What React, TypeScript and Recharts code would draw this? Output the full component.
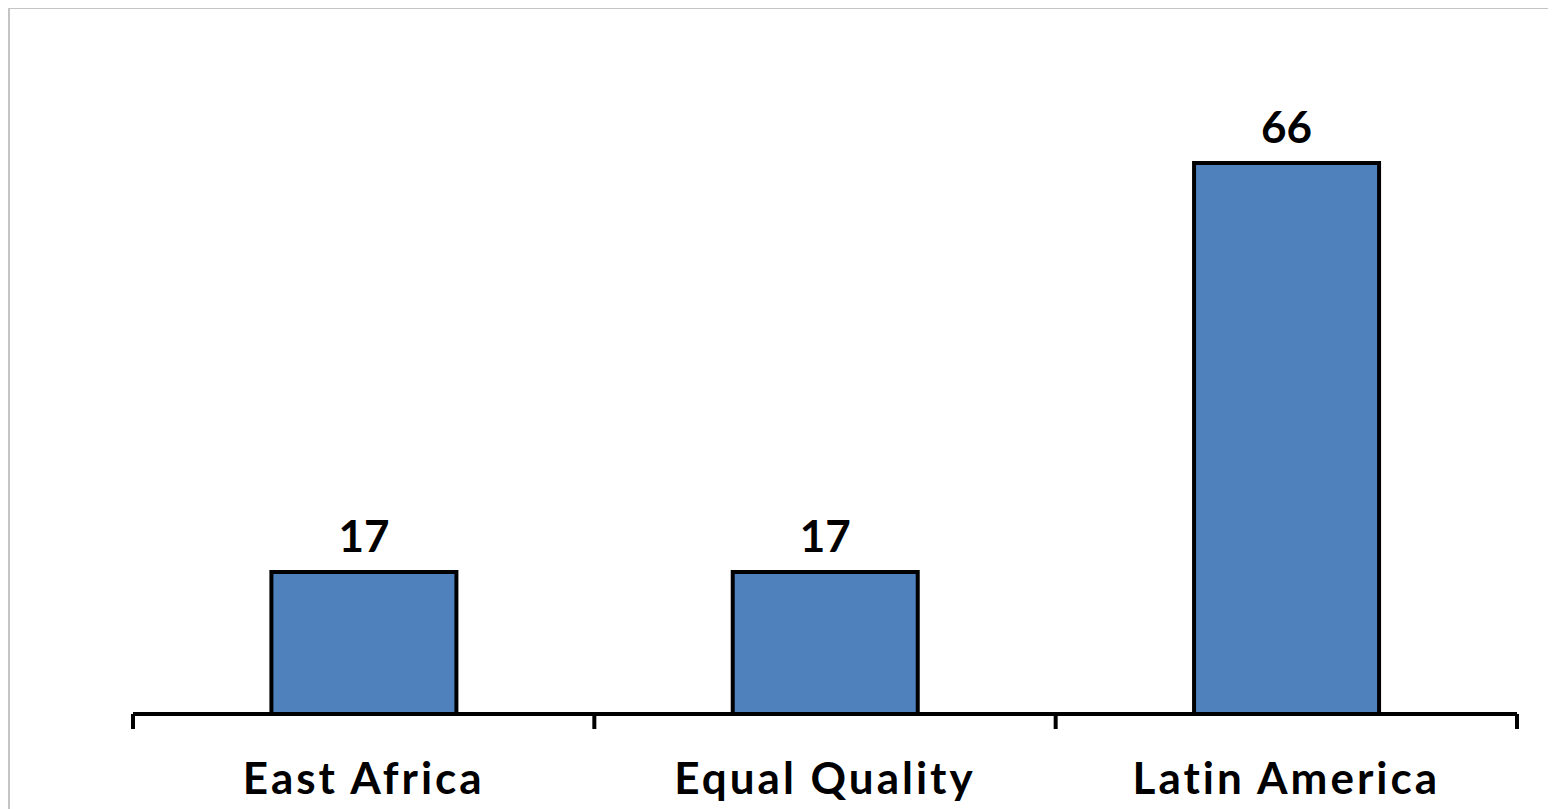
import { BarChart, Bar, XAxis, YAxis, LabelList } from 'recharts';

const regions = ['East Africa', 'Equal Quality', 'Latin America'];
const shares = [17, 17, 66];

const data = regions.map((region, i) => ({ region, share: shares[i] }));

const FONT = 'Lato, "DejaVu Sans", sans-serif';

// label under each bar, plus the tick marks that sit on the band edges
function RegionTick({ x, y, payload, index }: any) {
  const half = payload.offset ?? 0;
  const isLast = index === regions.length - 1;
  return (
    <g>
      <line x1={x - half} x2={x - half} y1={y} y2={y + 15} stroke="#000" strokeWidth={4} />
      {isLast && (
        <line x1={x + half} x2={x + half} y1={y} y2={y + 15} stroke="#000" strokeWidth={4} />
      )}
      <text
        x={x}
        y={y}
        dy={80}
        textAnchor="middle"
        fontFamily={FONT}
        fontWeight={700}
        fontSize={44}
        letterSpacing={3}
        fill="#000"
      >
        {payload.value}
      </text>
    </g>
  );
}

export default function App() {
  return (
    <div
      style={{
        width: 1540,
        height: 800,
        border: '2px solid #c4c4c4',
        borderBottom: 'none',
        marginTop: -1,
        background: '#fff',
      }}
    >
      <BarChart
        width={1540}
        height={800}
        data={data}
        margin={{ top: 37, right: 33, bottom: 34, left: 123 }}
        barCategoryGap="30%"
      >
        <XAxis
          dataKey="region"
          height={61}
          tickSize={0}
          tickMargin={0}
          interval={0}
          axisLine={{ stroke: '#000', strokeWidth: 4 }}
          tickLine={false}
          tick={<RegionTick />}
        />
        <YAxis hide domain={[0, 80]} />
        <Bar
          dataKey="share"
          fill="#4f81bd"
          stroke="#000"
          strokeWidth={4}
          isAnimationActive={false}
        >
          <LabelList
            dataKey="share"
            position="top"
            offset={20}
            fontFamily={FONT}
            fontWeight={700}
            fontSize={44}
            fill="#000"
          />
        </Bar>
      </BarChart>
    </div>
  );
}
